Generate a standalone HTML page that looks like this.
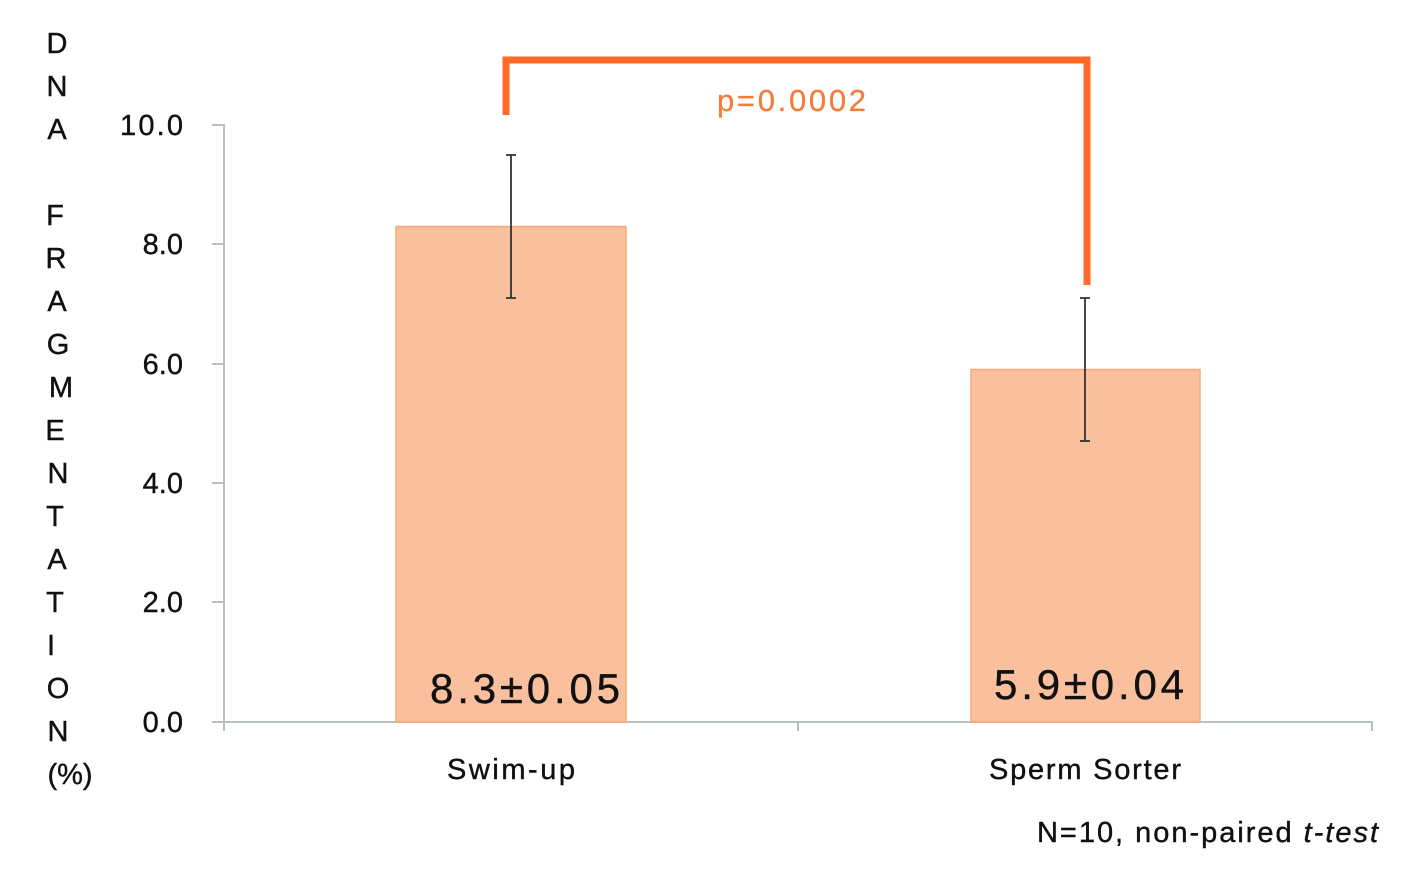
<!DOCTYPE html>
<html><head><meta charset="utf-8"><style>
html,body{margin:0;padding:0;background:#fff;}
svg{display:block;}
text{font-family:"Liberation Sans",sans-serif;fill:#111;stroke:#111;stroke-width:0.4;}
</style></head><body>
<svg width="1415" height="883" viewBox="0 0 1415 883">
<g font-size="29" text-anchor="middle">
<text x="57" y="53">D</text><text x="57" y="96">N</text><text x="57" y="139">A</text>
<text x="55" y="225">F</text><text x="56" y="268">R</text><text x="57" y="311">A</text>
<text x="58" y="354">G</text><text x="61" y="397">M</text><text x="55" y="440">E</text>
<text x="58" y="483">N</text><text x="55" y="526">T</text><text x="57" y="569">A</text>
<text x="55" y="612">T</text><text x="51" y="655">I</text><text x="58" y="698">O</text>
<text x="58" y="741">N</text><text x="70" y="784">(%)</text>
</g>
<g font-size="29" text-anchor="end">
<text x="183" y="135" textLength="63">10.0</text><text x="183" y="254">8.0</text><text x="183" y="374">6.0</text>
<text x="183" y="493">4.0</text><text x="183" y="612">2.0</text><text x="183" y="732">0.0</text>
</g>
<g stroke="#b8c0c0" stroke-width="2" fill="none">
<line x1="224" y1="124" x2="224" y2="731"/>
<line x1="224" y1="722" x2="1373" y2="722"/>
<line x1="212" y1="125" x2="224" y2="125"/><line x1="212" y1="244" x2="224" y2="244"/>
<line x1="212" y1="364" x2="224" y2="364"/><line x1="212" y1="483" x2="224" y2="483"/>
<line x1="212" y1="602" x2="224" y2="602"/><line x1="212" y1="722" x2="224" y2="722"/>
<line x1="798" y1="722" x2="798" y2="731"/><line x1="1372" y1="722" x2="1372" y2="731"/>
</g>
<rect x="396" y="226.5" width="230" height="495.5" fill="#fac09d" stroke="#f8a878" stroke-width="1.5"/>
<rect x="971" y="369.5" width="229" height="352.5" fill="#fac09d" stroke="#f8a878" stroke-width="1.5"/>
<g stroke="#333" stroke-width="1.8">
<line x1="511" y1="155" x2="511" y2="298"/><line x1="506" y1="155" x2="516" y2="155"/><line x1="506" y1="298" x2="516" y2="298"/>
<line x1="1085" y1="298" x2="1085" y2="441"/><line x1="1080" y1="298" x2="1090" y2="298"/><line x1="1080" y1="441" x2="1090" y2="441"/>
</g>
<polyline points="506,115 506,60 1087,60 1087,285" fill="none" stroke="#ff6a28" stroke-width="7" stroke-linejoin="miter"/>
<text x="717" y="111" font-size="31" textLength="149" style="fill:#f47c3c;stroke:#f47c3c;stroke-width:0.3">p=0.0002</text>
<text x="430" y="703" font-size="42" textLength="190">8.3±0.05</text>
<text x="994" y="699" font-size="42" textLength="190">5.9±0.04</text>
<text x="447" y="779" font-size="29" textLength="128">Swim-up</text>
<text x="989" y="779" font-size="29" textLength="192">Sperm Sorter</text>
<text x="1037" y="842" font-size="29" textLength="341">N=10, non-paired <tspan font-style="italic">t-test</tspan></text>
</svg>
</body></html>
